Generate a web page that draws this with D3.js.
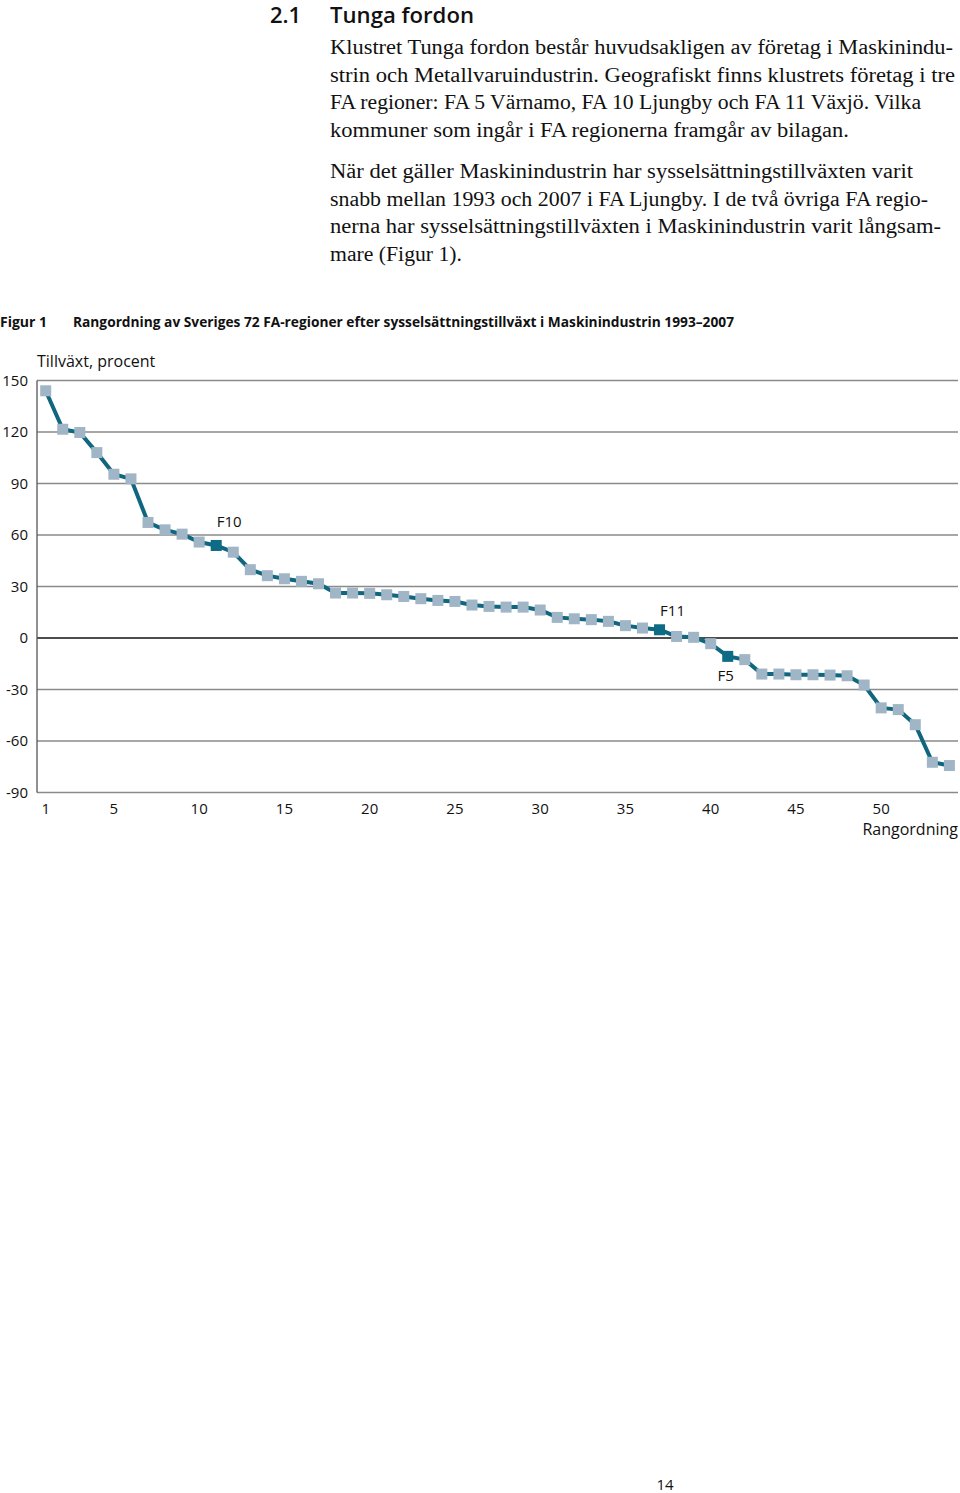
<!DOCTYPE html>
<html>
<head>
<meta charset="utf-8">
<script src="https://cdn.jsdelivr.net/npm/d3@7"></script>
<style>
    body { margin:0; background:#fff; }
    svg { display:block; }
    .sans { font-family:'Open Sans','Noto Sans',sans-serif; fill:#111; }
    .serif { font-family:'Liberation Serif','DejaVu Serif',serif; fill:#111; }
</style>
</head>
<body>
<svg id="page" width="960" height="1493"></svg>
<script>
(function() {
    'use strict';

    // growth, percent, by rank 1..54
    var values = [144, 121.6, 119.7, 108, 95.4, 92.7, 67.3, 63, 60.5, 55.9,
                  53.9, 50, 39.8, 36.3, 34.5, 33, 31.6, 26.2, 26.2, 26,
                  25.2, 24.2, 22.9, 21.9, 21.3, 19.2, 18.4, 18, 18, 16.3,
                  12, 11.2, 10.7, 9.7, 7.2, 5.8, 4.8, 0.9, 0.4, -3.3,
                  -10.7, -12.6, -21, -21, -21.4, -21.4, -21.6, -22, -27.4, -40.7,
                  -41.7, -50.5, -72.4, -74.3];

    var marked = [ { rank:11, label:'F10' }, { rank:37, label:'F11' }, { rank:41, label:'F5' } ];

    var yTicks = [150, 120, 90, 60, 30, 0, -30, -60, -90];
    var xTicks = [1, 5, 10, 15, 20, 25, 30, 35, 40, 45, 50];

    var heading = ['2.1', 'Tunga fordon'];
    var para1 = ['Klustret Tunga fordon består huvudsakligen av företag i Maskinindu-',
                 'strin och Metallvaruindustrin. Geografiskt finns klustrets företag i tre',
                 'FA regioner: FA 5 Värnamo, FA 10 Ljungby och FA 11 Växjö. Vilka',
                 'kommuner som ingår i FA regionerna framgår av bilagan.'];
    var para2 = ['När det gäller Maskinindustrin har sysselsättningstillväxten varit',
                 'snabb mellan 1993 och 2007 i FA Ljungby. I de två övriga FA regio-',
                 'nerna har sysselsättningstillväxten i Maskinindustrin varit långsam-',
                 'mare (Figur 1).'];

    // rendered width of each body line, to follow the printed page
    var lineWidth = [623, 625, 591, 519, 583, 598, 611, 132];

    var svg = d3.select('#page');

    /******************************************************************
        text above the chart
     ******************************************************************/
    svg.append('text').attr('class','sans')
        .attr('x', 270).attr('y', 23)
        .style('font-size','22px').style('font-weight', 600)
        .text(heading[0]);

    svg.append('text').attr('class','sans')
        .attr('x', 330).attr('y', 23)
        .style('font-size','22px').style('font-weight', 600)
        .attr('textLength', 144).attr('lengthAdjust','spacingAndGlyphs')
        .text(heading[1]);

    var lines = para1.concat(para2);
    svg.selectAll('.body').data(lines).enter()
        .append('text')
            .attr('class','serif body')
            .attr('x', 330)
            .attr('y', function(d,i) { return (i < 4 ? 54 : 178 - 4*27.5) + i*27.5; })
            .style('font-size','20px')
            .attr('textLength', function(d,i) { return lineWidth[i]; })
            .attr('lengthAdjust','spacingAndGlyphs')
            .text(function(d) { return d; });

    svg.append('text').attr('class','sans')
        .attr('x', 0).attr('y', 327)
        .style('font-size','14px').style('font-weight', 700)
        .text('Figur 1');

    svg.append('text').attr('class','sans')
        .attr('x', 73).attr('y', 327)
        .style('font-size','14px').style('font-weight', 700)
        .attr('textLength', 661).attr('lengthAdjust','spacingAndGlyphs')
        .text('Rangordning av Sveriges 72 FA-regioner efter sysselsättningstillväxt i Maskinindustrin 1993–2007');

    /******************************************************************
        chart
     ******************************************************************/
    var x = d3.scaleLinear().domain([1, 54]).range([45.7, 949.4]);
    var y = d3.scaleLinear().domain([-90, 150]).range([792.5, 380.5]);

    var g = svg.append('g');

    g.selectAll('.grid').data(yTicks).enter()
        .append('line')
            .attr('x1', 37).attr('x2', 958)
            .attr('y1', function(d) { return y(d); })
            .attr('y2', function(d) { return y(d); })
            .style('stroke', function(d) { return d === 0 ? '#111' : '#8a8a8a'; })
            .style('stroke-width', 1.3);

    g.append('line')
        .attr('x1', 37).attr('x2', 37)
        .attr('y1', y(150)).attr('y2', y(-90))
        .style('stroke','#555').style('stroke-width', 1.3);

    g.selectAll('.ylab').data(yTicks).enter()
        .append('text')
            .attr('class','sans')
            .attr('x', 28)
            .attr('y', function(d) { return y(d) + 5; })
            .attr('text-anchor','end')
            .style('font-size','15px')
            .text(function(d) { return d; });

    g.selectAll('.xlab').data(xTicks).enter()
        .append('text')
            .attr('class','sans')
            .attr('x', function(d) { return x(d); })
            .attr('y', 814)
            .attr('text-anchor','middle')
            .style('font-size','15px')
            .text(function(d) { return d; });

    g.append('text').attr('class','sans')
        .attr('x', 37).attr('y', 367)
        .style('font-size','16px')
        .text('Tillväxt, procent');

    g.append('text').attr('class','sans')
        .attr('x', 958).attr('y', 835)
        .attr('text-anchor','end')
        .style('font-size','16px')
        .text('Rangordning');

    var line = d3.line()
        .x(function(d,i) { return x(i + 1); })
        .y(function(d) { return y(d); });

    g.append('path')
        .datum(values)
        .attr('d', line)
        .style('fill','none')
        .style('stroke','#11667f')
        .style('stroke-width', 4);

    var darkRanks = marked.map(function(m) { return m.rank; });

    g.selectAll('.pt').data(values).enter()
        .append('rect')
            .attr('x', function(d,i) { return x(i + 1) - 5.5; })
            .attr('y', function(d) { return y(d) - 5.5; })
            .attr('width', 11).attr('height', 11)
            .style('fill', function(d,i) {
                return darkRanks.indexOf(i + 1) >= 0 ? '#0e6b86' : '#a0b5c6';
            });

    // labels of the three marked regions
    var labelPos = { F10: [0, -18], F11: [0, -14], F5: [-15, 25] };
    g.selectAll('.mlab').data(marked).enter()
        .append('text')
            .attr('class','sans')
            .attr('x', function(d) { return x(d.rank) + 13 + labelPos[d.label][0]; })
            .attr('y', function(d) { return y(values[d.rank - 1]) + labelPos[d.label][1]; })
            .attr('text-anchor','middle')
            .style('font-size','15px')
            .text(function(d) { return d.label; });

    svg.append('text').attr('class','sans')
        .attr('x', 665).attr('y', 1490)
        .attr('text-anchor','middle')
        .style('font-size','15px')
        .text('14');
})();
</script>
</body>
</html>
